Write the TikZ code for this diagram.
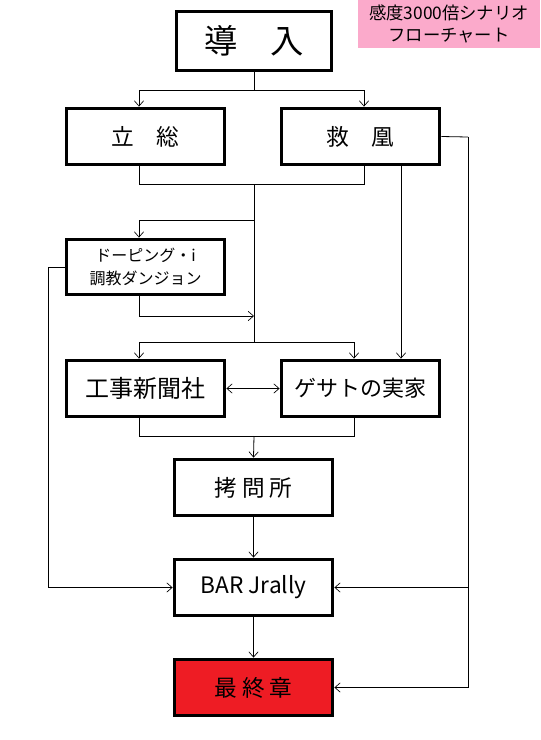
\documentclass[tikz,border=0pt]{standalone}
\usepackage{fontspec}
\newfontfamily\jp{Noto Sans CJK JP}
\usetikzlibrary{arrows.meta}
\definecolor{pinkbg}{HTML}{FBAACB}
\definecolor{redbox}{HTML}{EE1C24}
\begin{document}
\begin{tikzpicture}[x=0.75pt,y=-0.75pt,
  conn/.style={draw=black,line width=0.6pt},
  arr/.style={conn,-{Straight Barb[length=4pt,width=7pt,line width=0.5pt]}},
  darr/.style={conn,{Straight Barb[length=4pt,width=7pt,line width=0.5pt]}-{Straight Barb[length=4pt,width=7pt,line width=0.5pt]}}]
\useasboundingbox (0,0) rectangle (540,740);
\fill[white] (0,0) rectangle (540,740);
% pink label
\node[fill=pinkbg,minimum width=136.5pt,minimum height=36pt,inner sep=0pt,align=center,font=\jp\fontsize{13}{17}\selectfont] (lab) at (449,24) {感度3000倍シナリオ\\フローチャート};
% boxes (pixel geometry)
\newcommand\pbox[7]{\node[draw=black,line width=2.4pt,fill=#6,inner sep=0pt,minimum width=#3*0.75pt-1.8pt,minimum height=#4*0.75pt-1.8pt,align=center,font=\jp\fontsize{#7}{17}\selectfont] (#1) at #2 {#5};}
\pbox{intro}{(254,41)}{158}{62}{導　入}{white}{25}
\pbox{a}{(145.5,136.5)}{161}{59}{立　総}{white}{17}
\pbox{b}{(360.5,136.5)}{161}{59}{救　凰}{white}{17}
\pbox{c}{(145.5,267)}{161}{58}{ドーピング・i\\調教ダンジョン}{white}{12}
\pbox{d}{(145.5,388.5)}{161}{59}{工事新聞社}{white}{18}
\pbox{e}{(360.5,388.5)}{161}{59}{ゲサトの実家}{white}{16.5}
\pbox{f}{(253.5,487.5)}{161}{59}{拷 問 所}{white}{17}
\pbox{g}{(253.5,587.5)}{161}{59}{BAR Jrally}{white}{17}
\pbox{h}{(253.5,687.5)}{161}{59}{最 終 章}{redbox}{17}
% connectors
\coordinate (j1) at (254,90);
\draw[conn] (intro.south) -- (j1);
\draw[arr] (j1) -| (a.north -| 139,0);
\draw[arr] (j1) -| (b.north -| 364,0);
% row 2 merge
\coordinate (j2) at (254,184);
\draw[conn] (a.south -| 139,0) |- (j2);
\draw[conn] (b.south -| 364,0) |- (j2);
\coordinate (j3) at (254,342);
\draw[conn] (j2) -- (j3);
\draw[arr] (254,220) -| (c.north -| 139,0);
\draw[arr] (c.south -| 139,0) |- (254,316);
\draw[arr] (j3) -| (d.north -| 139,0);
\draw[arr] (j3) -| (e.north -| 354,0);
\draw[arr] (b.south -| 401,0) -- (e.north -| 401,0);
\draw[darr] (d.east) -- (e.west);
\coordinate (j4) at (254,436);
\draw[conn] (d.south -| 139,0) |- (j4);
\draw[conn] (e.south -| 354,0) |- (j4);
\draw[arr] (j4) -- (f.north);
\draw[arr] (f.south) -- (g.north);
\draw[arr] (g.south) -- (h.north);
\draw[arr] (c.west) -| (48,587.5) -- (g.west);
\coordinate (r1) at (468,137);
\draw[conn] (b.east) -- (r1);
\draw[arr] (r1) |- (h.east);
\draw[arr] (468,587.5) -- (g.east);
\end{tikzpicture}
\end{document}
